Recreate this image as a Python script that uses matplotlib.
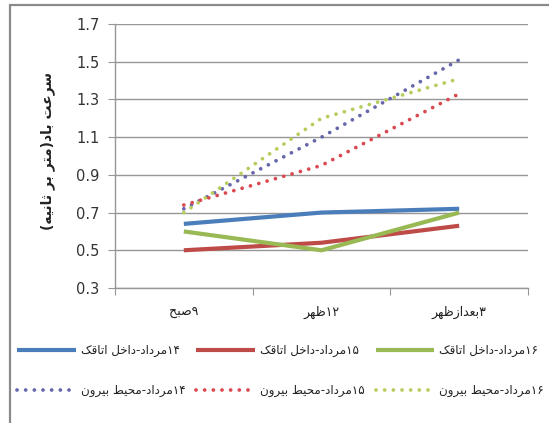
import matplotlib
matplotlib.use("Agg")
import matplotlib.pyplot as plt
from matplotlib.patches import Rectangle

# wind speed readings (m/s) at three times of day
times = ["۹صبح", "۱۲ظهر", "۳بعدازظهر"]
inside_14 = [0.64, 0.70, 0.72]
inside_15 = [0.50, 0.54, 0.63]
inside_16 = [0.60, 0.50, 0.70]
outside_14 = [0.72, 1.10, 1.51]
outside_15 = [0.74, 0.95, 1.33]
outside_16 = [0.70, 1.20, 1.41]
labels = ["۱۴مرداد-داخل اتاقک", "۱۵مرداد-داخل اتاقک", "۱۶مرداد-داخل اتاقک",
          "۱۴مرداد-محیط بیرون", "۱۵مرداد-محیط بیرون", "۱۶مرداد-محیط بیرون"]
ylabel = "سرعت باد(متر بر ثانیه)"
yticks = [0.3, 0.5, 0.7, 0.9, 1.1, 1.3, 1.5, 1.7]

# matplotlib has no arabic shaping, so pick presentation forms by hand
# (isolated, final, initial, medial)
FORMS = {
    'ا': (0xFE8D, 0xFE8E, None, None),
    'ب': (0xFE8F, 0xFE90, 0xFE91, 0xFE92),
    'ت': (0xFE95, 0xFE96, 0xFE97, 0xFE98),
    'ث': (0xFE99, 0xFE9A, 0xFE9B, 0xFE9C),
    'ح': (0xFEA1, 0xFEA2, 0xFEA3, 0xFEA4),
    'خ': (0xFEA5, 0xFEA6, 0xFEA7, 0xFEA8),
    'د': (0xFEA9, 0xFEAA, None, None),
    'ر': (0xFEAD, 0xFEAE, None, None),
    'ز': (0xFEAF, 0xFEB0, None, None),
    'س': (0xFEB1, 0xFEB2, 0xFEB3, 0xFEB4),
    'ص': (0xFEB9, 0xFEBA, 0xFEBB, 0xFEBC),
    'ط': (0xFEC1, 0xFEC2, 0xFEC3, 0xFEC4),
    'ظ': (0xFEC5, 0xFEC6, 0xFEC7, 0xFEC8),
    'ع': (0xFEC9, 0xFECA, 0xFECB, 0xFECC),
    'ق': (0xFED5, 0xFED6, 0xFED7, 0xFED8),
    'ل': (0xFEDD, 0xFEDE, 0xFEDF, 0xFEE0),
    'م': (0xFEE1, 0xFEE2, 0xFEE3, 0xFEE4),
    'ن': (0xFEE5, 0xFEE6, 0xFEE7, 0xFEE8),
    'ه': (0xFEE9, 0xFEEA, 0xFEEB, 0xFEEC),
    'و': (0xFEED, 0xFEEE, None, None),
    'ک': (0xFB8E, 0xFB8F, 0xFB90, 0xFB91),
    'ی': (0xFBFC, 0xFBFD, 0xFBFE, 0xFBFF),
}
DIGITS = "۰۱۲۳۴۵۶۷۸۹0123456789."
MIRROR = {'(': ')', ')': '('}


def dual(c):
    return c in FORMS and FORMS[c][2] is not None


def fa(s):
    out = []
    for i, c in enumerate(s):
        if c not in FORMS:
            out.append(c)
            continue
        prev = s[i - 1] if i > 0 else ''
        nxt = s[i + 1] if i + 1 < len(s) else ''
        jp = dual(prev)
        jn = dual(c) and nxt in FORMS
        f = FORMS[c]
        code = f[3] if (jp and jn) else f[1] if jp else f[2] if jn else f[0]
        out.append(chr(code))
    # visual order: reverse, keep digit runs left-to-right
    rev = [MIRROR.get(c, c) for c in reversed(out)]
    res, run = [], []
    for c in rev:
        if c in DIGITS:
            run.append(c)
        else:
            res.extend(reversed(run))
            run = []
            res.append(c)
    res.extend(reversed(run))
    return ''.join(res)


plt.rcParams['font.family'] = ['DejaVu Sans']

fig = plt.figure(figsize=(5.49, 4.23), dpi=100)
fig.patches.append(Rectangle((10 / 549, -0.2), 1.2, 1.2 - 5 / 423, transform=fig.transFigure,
                             fill=False, edgecolor='#8a8a8a', lw=1.6))

ax = fig.add_axes([115 / 549, 1 - 288 / 423, 413 / 549, 264 / 423])
x = range(len(times))

solid = [(inside_14, '#4A7EBB'), (inside_15, '#BE4B48'), (inside_16, '#98B954')]
dotted = [(outside_14, '#6666AA'), (outside_15, '#DA4850'), (outside_16, '#B6CD5C')]
handles = []
for vals, col in solid:
    h, = ax.plot(x, vals, color=col, lw=3, solid_capstyle='butt', zorder=3)
    handles.append(h)
for vals, col in dotted:
    h, = ax.plot(x, vals, color=col, lw=2.7, linestyle=(0, (0.01, 2.3)),
                 dash_capstyle='round', zorder=3)
    handles.append(h)

ax.set_xlim(-0.5, 2.5)
ax.set_ylim(0.3, 1.7)
ax.set_yticks(yticks)
ax.set_yticklabels([f"{v:.1f}" for v in yticks])
ax.yaxis.grid(True, color='#969696', lw=1)
ax.set_axisbelow(True)

ax.set_xticks([-0.5, 0.5, 1.5, 2.5])
ax.set_xticklabels([])
ax.set_xticks(list(x), minor=True)
ax.set_xticklabels([fa(t) for t in times], minor=True)
ax.tick_params(axis='x', which='major', length=5, color='#969696', direction='out')
ax.tick_params(axis='x', which='minor', length=0, pad=13, labelsize=9, labelcolor='#222222')
ax.tick_params(axis='y', length=5, color='#969696', labelsize=10.5, labelcolor='#333333', pad=6)

for side in ('top', 'right'):
    ax.spines[side].set_visible(False)
for side in ('left', 'bottom'):
    ax.spines[side].set_color('#969696')
    ax.spines[side].set_linewidth(1)

ax.set_ylabel(fa(ylabel), fontsize=10, fontweight='bold', color='#222222')
ax.yaxis.set_label_coords(-0.145, 0.52)

# legend: row 1 inside, row 2 outside (columns fill first)
order = [0, 3, 1, 4, 2, 5]
fig.legend([handles[i] for i in order], [fa(labels[i]) for i in order],
           ncol=3, loc='upper left', bbox_to_anchor=(17 / 549, 1 - 344 / 423),
           frameon=False, fontsize=8.6, handlelength=4.9, handletextpad=0.45,
           columnspacing=0.9, labelspacing=2.25, borderpad=0, borderaxespad=0,
           labelcolor='#222222')

fig.savefig("out.png", dpi=100, facecolor='white')
